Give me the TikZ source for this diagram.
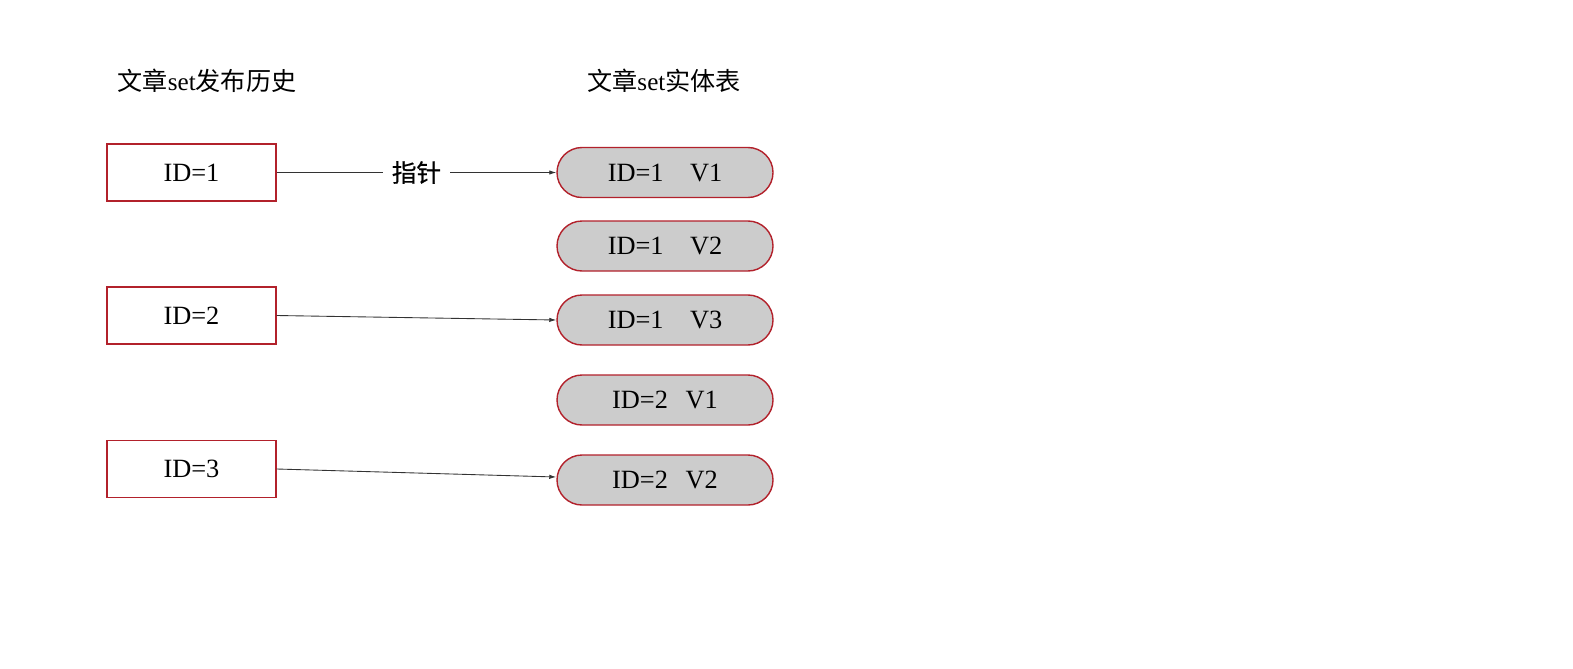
\documentclass[tikz,border=0pt]{standalone}
\usepackage{fontspec}
\setmainfont{Liberation Serif}
\newfontfamily\cjk{Noto Sans CJK SC}
\newfontfamily\cjkmid[FakeBold=0.6]{Noto Sans CJK SC}
\usetikzlibrary{arrows.meta}

\begin{document}
\begin{tikzpicture}
%
\definecolor{col_border}{rgb}{0.70,0.13,0.17}
\definecolor{col_fill}{rgb}{0.80,0.80,0.80}
\definecolor{col_edge}{rgb}{0.20,0.20,0.20}
\definecolor{col_lab}{rgb}{0.0,0.0,0.0}
%
\tikzset{
  histbox/.style={draw=col_border,line width=0.8pt,fill=white,minimum width=3.38cm,minimum height=1.14cm,font=\fontsize{15}{18}\selectfont,text=col_lab},
  entpill/.style={draw=col_border,line width=0.8pt,fill=col_fill,rounded corners=0.5cm,minimum width=4.32cm,minimum height=1.0cm,font=\fontsize{15}{18}\selectfont,text=col_lab},
  title/.style={font=\fontsize{14.3}{17}\selectfont,text=col_lab},
  ptr/.style={draw=col_edge,line width=0.5pt,-{Latex[length=4pt,width=2.5pt]}}
}
%
\useasboundingbox (0,0) rectangle (31.46,-13.36);
%
%
\node[title] (t_hist) at (4.14cm,-1.62cm) {{\cjk 文章}set{\cjk 发布历史}};
\node[title] (t_ent) at (13.28cm,-1.62cm) {{\cjk 文章}set{\cjk 实体表}};
%
%
\node[histbox] (h1) at (3.83cm,-3.45cm) {ID=1};
\node[histbox] (h2) at (3.83cm,-6.31cm) {ID=2};
\node[histbox] (h3) at (3.83cm,-9.38cm) {ID=3};
%
%
\node[entpill] (e0) at (13.30cm,-3.45cm) {ID=1\hspace{15pt}V1};
\node[entpill] (e1) at (13.30cm,-4.92cm) {ID=1\hspace{15pt}V2};
\node[entpill] (e2) at (13.30cm,-6.40cm) {ID=1\hspace{15pt}V3};
\node[entpill] (e3) at (13.30cm,-8.00cm) {ID=2\hspace{10pt}V1};
\node[entpill] (e4) at (13.30cm,-9.60cm) {ID=2\hspace{10pt}V2};
%
%
\draw[ptr] (h1.east) -- node[fill=white,inner xsep=5pt,font=\cjkmid\fontsize{14}{16}\selectfont] (lab_ptr) {指针} (e0.west);
\draw[ptr] (h2.east) -- (e2.west);
\draw[ptr] (h3.east) -- ([yshift=0.06cm]e4.west);
%
%
\end{tikzpicture}
\end{document}
